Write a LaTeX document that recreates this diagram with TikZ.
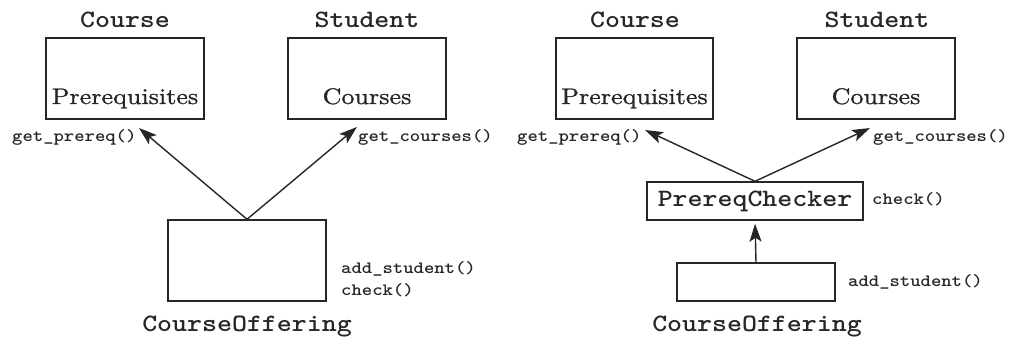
\documentclass[tikz,border=0pt]{standalone}
\usepackage{fontspec}
\newfontface\codefont{lmmonolt10-bold.otf}[FakeStretch=1.14]
\newfontface\memberfont{lmroman10-regular.otf}[FakeStretch=1.16,FakeBold=1.1]
\usetikzlibrary{arrows.meta}
\definecolor{ink}{HTML}{262626}

\tikzset{
  box/.style={draw=ink, line width=1.4pt, inner sep=0pt, minimum height=81pt},
  classname/.style={text=ink, inner sep=0pt, font=\codefont\fontsize{25}{26}\selectfont},
  member/.style={text=ink, inner sep=0pt, font=\memberfont\fontsize{22.5}{24}\selectfont},
  method/.style={text=ink, inner sep=0pt, anchor=base west, font=\codefont\fontsize{17.3}{18}\selectfont},
  uses/.style={draw=ink, line width=1.4pt, -{Stealth[length=18pt,width=12pt,inset=4pt]}},
}

\begin{document}
\begin{tikzpicture}[x=1pt,y=-1pt]
\useasboundingbox (0,0) rectangle (1010,338);

% ---- direct design: CourseOffering talks to Course and Student ----
\node[box, minimum width=158pt] (courseA) at (125,78.5) {};
\node[classname, anchor=base] (courseAname) at (125,27) {Course};
\node[member, anchor=base] (prereqA) at (125,104) {Prerequisites};

\node[box, minimum width=158pt] (studentA) at (367,78.5) {};
\node[classname, anchor=base] (studentAname) at (367,27) {Student};
\node[member, anchor=base] (coursesA) at (367,104) {Courses};

\node[box, minimum width=158pt] (offerA) at (247,260.5) {};
\node[classname, anchor=base] (offerAname) at (247,331) {CourseOffering};

\node[method] (getprereqA) at (12,141) {get\_prereq()};
\node[method] (getcoursesA) at (358,141) {get\_courses()};
\node[method] (addstudentA) at (341,273) {add\_student()};
\node[method] (checkA) at (341,295) {check()};

\coordinate (tipA1) at (139,128);
\coordinate (tipA2) at (357,127);
\draw[uses] (offerA.north) -- (tipA1);
\draw[uses] (offerA.north) -- (tipA2);

% ---- refactored design: checking moved into PrereqChecker ----
\node[box, minimum width=157pt] (courseB) at (634.5,78.5) {};
\node[classname, anchor=base] (courseBname) at (635,27) {Course};
\node[member, anchor=base] (prereqB) at (634.5,104) {Prerequisites};

\node[box, minimum width=158pt] (studentB) at (876,78.5) {};
\node[classname, anchor=base] (studentBname) at (877,27) {Student};
\node[member, anchor=base] (coursesB) at (876,104) {Courses};

\node[box, classname, minimum width=216pt, minimum height=38pt] (checker) at (755,201) {PrereqChecker};

\node[box, minimum width=158pt, minimum height=38pt] (offerB) at (756,282) {};
\node[classname, anchor=base] (offerBname) at (757,331) {CourseOffering};

\node[method] (getprereqB) at (517,141) {get\_prereq()};
\node[method] (getcoursesB) at (873,141) {get\_courses()};
\node[method] (checkB) at (872,204) {check()};
\node[method] (addstudentB) at (848,286) {add\_student()};

\coordinate (tipB1) at (645,130);
\coordinate (tipB2) at (870,128);
\draw[uses] (checker.north) -- (tipB1);
\draw[uses] (checker.north) -- (tipB2);
\draw[uses, shorten >=3pt] (offerB.north) -- (checker.south);
\end{tikzpicture}
\end{document}
